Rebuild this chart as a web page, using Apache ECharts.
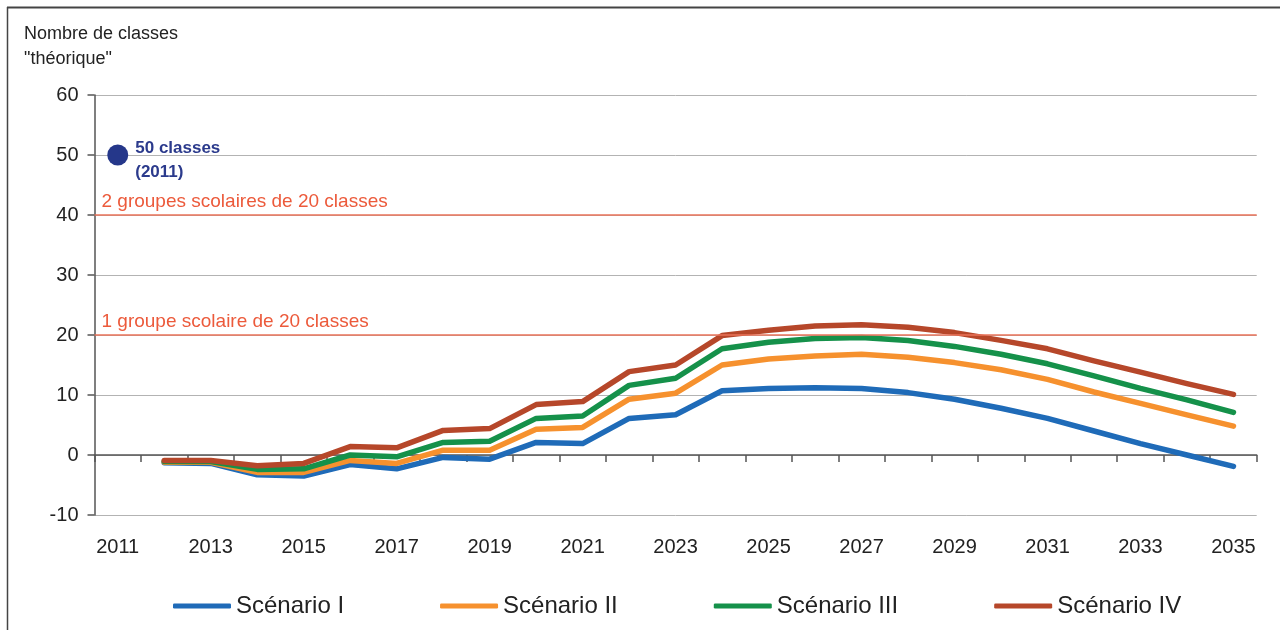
<!DOCTYPE html>
<html>
<head>
<meta charset="utf-8">
<script src="https://cdn.jsdelivr.net/npm/echarts@6/dist/echarts.min.js"></script>
<style>
  html, body { margin: 0; padding: 0; background: #fff; }
  #chart { width: 1280px; height: 630px; }
</style>
</head>
<body>
<div id="chart"></div>
<script>
  var years = ['2011', '2012', '2013', '2014', '2015', '2016', '2017', '2018', '2019', '2020', '2021', '2022', '2023',
    '2024', '2025', '2026', '2027', '2028', '2029', '2030', '2031', '2032', '2033', '2034', '2035'];
  var scenario1 = [null, -1.3, -1.4, -3.3, -3.5, -1.6, -2.3, -0.4, -0.7, 2.1, 1.9, 6.1, 6.7,
    10.7, 11.1, 11.2, 11.1, 10.4, 9.3, 7.8, 6.1, 4.0, 1.9, 0.0, -1.9];
  var scenario2 = [null, -1.2, -1.2, -2.9, -2.9, -0.9, -1.4, 0.8, 0.8, 4.3, 4.6, 9.3, 10.3,
    15.0, 16.0, 16.5, 16.8, 16.3, 15.4, 14.2, 12.6, 10.5, 8.6, 6.7, 4.8];
  var scenario3 = [null, -1.1, -1.1, -2.4, -2.3, 0.0, -0.3, 2.1, 2.3, 6.1, 6.5, 11.6, 12.8,
    17.7, 18.8, 19.4, 19.6, 19.1, 18.1, 16.8, 15.2, 13.2, 11.1, 9.2, 7.1];
  var scenario4 = [null, -0.9, -0.9, -1.8, -1.4, 1.4, 1.2, 4.1, 4.4, 8.4, 8.9, 13.9, 15.0,
    19.9, 20.8, 21.5, 21.7, 21.3, 20.4, 19.1, 17.7, 15.7, 13.8, 11.9, 10.1];
  var classes2011 = [['2011', 50]];
  var seuils = [20, 40];
  var seuilLabels = ['1 groupe scolaire de 20 classes', '2 groupes scolaires de 20 classes'];

  var font = "'Liberation Sans', Arial, sans-serif";
  var colors = ['#1f6bb8', '#f6912e', '#15914a', '#b6472a'];
  var names = ['Scénario I', 'Scénario II', 'Scénario III', 'Scénario IV'];
  var values = [scenario1, scenario2, scenario3, scenario4];

  var series = values.map(function (d, i) {
    return {
      name: names[i],
      type: 'line',
      data: d,
      showSymbol: false,
      symbol: 'none',
      z: 3,
      lineStyle: { width: 5.5, color: colors[i], cap: 'round', join: 'round' },
      itemStyle: { color: colors[i] }
    };
  });

  // lignes rouges des groupes scolaires
  series[0].markLine = {
    silent: true,
    symbol: 'none',
    lineStyle: { color: '#ea735a', width: 1.5, type: 'solid' },
    label: {
      position: 'insideStartTop',
      distance: [7, 4],
      color: '#ec5a3b',
      fontSize: 19,
      fontFamily: font
    },
    data: seuils.map(function (v, i) {
      return { yAxis: v, label: { formatter: seuilLabels[i] } };
    })
  };

  series.push({
    type: 'scatter',
    data: classes2011,
    symbolSize: 21,
    z: 4,
    itemStyle: { color: '#25378a', opacity: 1 },
    label: {
      show: true,
      position: 'right',
      distance: 7,
      offset: [0, 5],
      formatter: '50 classes\n(2011)',
      color: '#2b3a8c',
      fontSize: 17,
      fontWeight: 'bold',
      lineHeight: 24,
      fontFamily: font
    }
  });

  var myChart = echarts.init(document.getElementById('chart'));
  myChart.setOption({
    animation: false,
    textStyle: { fontFamily: font },
    grid: { left: 94.5, right: 23.3, top: 95, bottom: 115 },
    legend: {
      data: names,
      left: 168,
      top: 589,
      icon: 'roundRect',
      itemWidth: 58,
      itemHeight: 5,
      itemGap: 96,
      textStyle: { fontSize: 24, color: '#222', fontFamily: font }
    },
    xAxis: {
      type: 'category',
      data: years,
      boundaryGap: true,
      axisLine: { onZero: true, lineStyle: { color: '#555', width: 1.5 } },
      axisTick: { show: true, interval: 0, length: 7, lineStyle: { color: '#555', width: 1.5 } },
      axisLabel: { interval: 1, margin: 22, fontSize: 20, color: '#222' },
      splitLine: { show: false }
    },
    yAxis: {
      type: 'value',
      min: -10,
      max: 60,
      interval: 10,
      axisLine: { show: true, lineStyle: { color: '#555', width: 1.5 } },
      axisTick: { show: true, length: 7, lineStyle: { color: '#555', width: 1.5 } },
      axisLabel: { fontSize: 20, color: '#222', margin: 16 },
      splitLine: { lineStyle: { color: '#b3b3b3', width: 1 } }
    },
    graphic: [
      { type: 'line', shape: { x1: 7, y1: 7.5, x2: 1280, y2: 7.5 }, style: { stroke: '#444', lineWidth: 2 } },
      { type: 'line', shape: { x1: 7.5, y1: 7, x2: 7.5, y2: 630 }, style: { stroke: '#444', lineWidth: 1.5 } },
      {
        type: 'text', left: 24, top: 22,
        style: { text: 'Nombre de classes\n"théorique"', fontSize: 18, lineHeight: 25, fill: '#222', fontFamily: font }
      }
    ],
    series: series
  });
  window.addEventListener('resize', function () {
    myChart.resize();
  });
</script>
</body>
</html>
